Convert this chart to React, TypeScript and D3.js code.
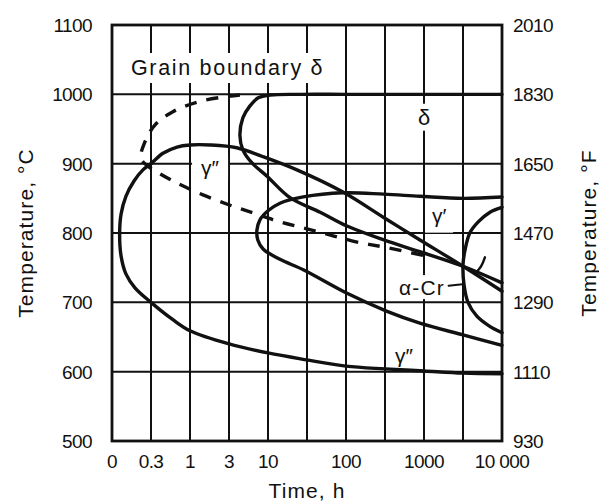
import React from 'react';
import * as d3 from 'd3';

// time grid (first grid line is the "0" on the axis)
const timeTicks = [0.1, 0.3, 1, 3, 10, 30, 100, 300, 1000, 3000, 10000];
const timeLabels = ['0', '0.3', '1', '3', '10', '', '100', '', '1000', '', '10 000'];
const tempTicks = [500, 600, 700, 800, 900, 1000, 1100];
const tempFLabels = ['930', '1110', '1290', '1470', '1650', '1830', '2010'];

// curves: [time h, temperature C]
const gammaDoublePrime: [number, number][] = [
  [10000, 597], [3000, 598], [1000, 601], [300, 604], [100, 608], [30, 617], [10, 627],
  [3, 640], [1, 659], [0.59, 675], [0.3, 700], [0.191, 721], [0.148, 741], [0.129, 767],
  [0.124, 797], [0.129, 827], [0.148, 853], [0.186, 875], [0.239, 891], [0.3, 900],
  [0.434, 915], [0.67, 924], [1, 927], [1.76, 927], [3.8, 923], [8.6, 910], [22.6, 891],
  [91, 859], [292, 822], [883, 790], [3000, 752], [10000, 716],
];
const delta: [number, number][] = [
  [10000, 1000], [1000, 1000], [100, 1000], [25, 1000], [10.6, 999], [7.4, 995],
  [5.7, 983], [4.6, 966], [4.2, 941], [4.6, 920], [6.1, 901], [9.7, 882], [18.6, 851],
  [45, 830], [103, 810], [290, 790], [880, 773], [3000, 752], [10000, 728],
];
const gammaPrime: [number, number][] = [
  [10000, 852], [3000, 850], [880, 853], [290, 856], [91, 858], [27, 852], [14, 843],
  [10, 832], [7.8, 819], [7.1, 804], [7.3, 790], [8.6, 777], [14, 762], [27, 747],
  [103, 713], [320, 687], [880, 670], [3000, 653], [10000, 638],
];
const alphaCr: [number, number][] = [
  [10000, 837], [6900, 830], [4800, 816], [3700, 800], [3200, 776], [3000, 754],
  [3100, 725], [3500, 700], [4600, 680], [6700, 666], [10000, 656],
];
const grainBoundaryDelta: [number, number][] = [
  [4.2, 999], [2.5, 996], [1.25, 989], [0.59, 975], [0.34, 956], [0.25, 930],
  [0.226, 908], [0.27, 897], [0.4, 885], [0.67, 872], [1.44, 855], [3.1, 840],
  [6.3, 829], [14, 816], [30, 806], [67, 796], [148, 786], [320, 779], [1030, 767],
];
const alphaCrMark: [number, number][] = [[5900, 765], [5300, 753], [4350, 741]];
const alphaCrLeader: [number, number][] = [[2000, 724], [2950, 726]];

const labels = [
  { text: 'Grain boundary δ', t: 2.88, T: 1038, w: 212, h: 30, size: 21.5, ls: 1.7 },
  { text: 'δ', t: 1000, T: 967, w: 16, h: 27, size: 22, ls: 0 },
  { text: 'γ″', t: 1.76, T: 894, w: 36, h: 24, size: 21, ls: 0 },
  { text: 'γ′', t: 1530, T: 825, w: 28, h: 34, size: 21, ls: 0 },
  { text: 'α-Cr', t: 940, T: 722, w: 52, h: 24, size: 21, ls: 1.2 },
  { text: 'γ″', t: 540, T: 623, w: 30, h: 22, size: 21, ls: 0 },
];

const W = 599, H = 501;
const m = { left: 112, right: 502, top: 25, bottom: 441 };
const font = '"Liberation Sans", Arial, sans-serif';

const App = () => {
  const x = d3.scaleLog()
    .domain(timeTicks)
    .range(timeTicks.map((_, i) => m.left + (i * (m.right - m.left)) / (timeTicks.length - 1)));
  const y = d3.scaleLinear().domain([500, 1100]).range([m.bottom, m.top]);

  const line = d3.line<[number, number]>()
    .x(d => x(d[0]))
    .y(d => y(d[1]))
    .curve(d3.curveCatmullRom.alpha(0.5));
  const straight = d3.line<[number, number]>().x(d => x(d[0])).y(d => y(d[1]));

  return (
    <svg width={W} height={H} style={{ position: 'absolute', left: 0, top: 0, background: '#fff' }}>
      <rect width={W} height={H} fill="#fff" />
      {/* grid */}
      <g stroke="#111" strokeWidth={2}>
        {timeTicks.map(t => (
          <line key={'v' + t} x1={x(t)} x2={x(t)} y1={m.top} y2={m.bottom} />
        ))}
        {tempTicks.map(T => (
          <line key={'h' + T} x1={m.left} x2={m.right} y1={y(T)} y2={y(T)} />
        ))}
      </g>
      <rect x={m.left} y={m.top} width={m.right - m.left} height={m.bottom - m.top}
        fill="none" stroke="#111" strokeWidth={2.8} />

      {/* label backgrounds */}
      {labels.map((l, i) => (
        <rect key={'bg' + i} x={x(l.t) - l.w / 2} y={y(l.T) - l.h / 2} width={l.w} height={l.h} fill="#fff" />
      ))}

      {/* curves */}
      <g fill="none" stroke="#111" strokeWidth={3.4} strokeLinecap="round">
        <path d={line(gammaDoublePrime)!} />
        <path d={line(delta)!} />
        <path d={line(gammaPrime)!} />
        <path d={line(alphaCr)!} />
        <path d={line(alphaCrMark)!} strokeWidth={2.4} />
        <path d={straight(alphaCrLeader)!} strokeWidth={2} />
        <path d={line(grainBoundaryDelta)!} strokeDasharray="12 10" strokeLinecap="butt" />
      </g>

      {/* labels */}
      <g fontFamily={font} fill="#111">
        {labels.map((l, i) => (
          <text key={'l' + i} x={x(l.t)} y={y(l.T)} textAnchor="middle" dominantBaseline="central"
            fontSize={l.size} letterSpacing={l.ls}>
            {l.text}
          </text>
        ))}
      </g>

      {/* axes labels */}
      <g fontFamily={font} fontSize={19} fill="#111" letterSpacing={-0.6}>
        {tempTicks.map(T => (
          <text key={'lc' + T} x={92} y={y(T) + 7} textAnchor="end">{T}</text>
        ))}
        {tempTicks.map((T, i) => (
          <text key={'lf' + T} x={513} y={y(T) + 7} textAnchor="start">{tempFLabels[i]}</text>
        ))}
        {timeTicks.map((t, i) => (
          <text key={'lt' + t} x={x(t)} y={468} textAnchor="middle">{timeLabels[i]}</text>
        ))}
      </g>
      <g fontFamily={font} fontSize={21} fill="#111" letterSpacing={1.1} textAnchor="middle">
        <text transform={`translate(33,${(m.top + m.bottom) / 2}) rotate(-90)`}>Temperature, °C</text>
        <text transform={`translate(596,${(m.top + m.bottom) / 2}) rotate(-90)`}>Temperature, °F</text>
        <text x={(m.left + m.right) / 2} y={498}>Time, h</text>
      </g>
    </svg>
  );
};

export default App;
